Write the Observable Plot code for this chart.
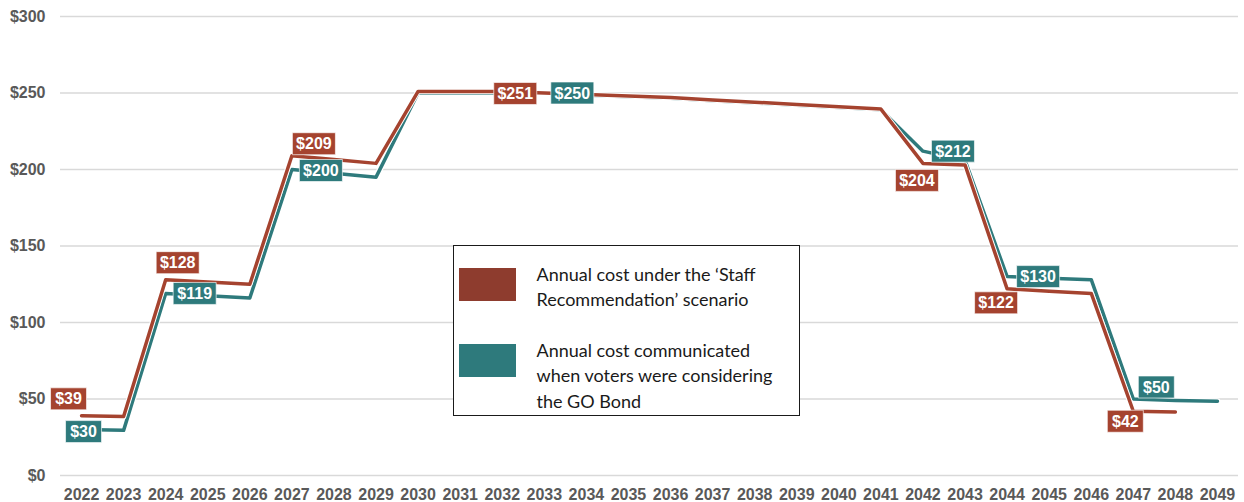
<!DOCTYPE html>
<html><head><meta charset="utf-8">
<script src="https://cdn.jsdelivr.net/npm/d3@7"></script>
<script src="https://cdn.jsdelivr.net/npm/@observablehq/plot@0.6"></script>
<style>
body{margin:0;background:#fff;}
#wrap{position:relative;width:1244px;height:502px;}
#legend{position:absolute;left:453px;top:245px;width:345px;height:169px;border:1.5px solid #1a1a1a;background:#fff;font-family:Lato,"Open Sans",sans-serif;font-size:18px;color:#1a1a1a;}
.sw{position:absolute;left:4.5px;width:57px;height:33px;}
.lt{position:absolute;left:82.5px;line-height:25.5px;white-space:nowrap;}
</style>
</head><body>
<div id="wrap"></div>
<script>
const years = [2022,2023,2024,2025,2026,2027,2028,2029,2030,2031,2032,2033,2034,2035,2036,2037,2038,2039,2040,2041,2042,2043,2044,2045,2046,2047,2048,2049];
// Annual cost under the 'Staff Recommendation' scenario (2022-2048)
const staffValues = [39,38.5,128,126.5,125,209,206.5,204,251,251,251,250,249,248,247,245.5,244,242.5,241,239.5,204,203,122,120.5,119,42,41.5];
// Annual cost communicated when voters were considering the GO Bond (2022-2049)
const bondValues = [30,29.5,119,117.5,116,200,197.5,195,250,250,250,250,248.5,247.5,246.5,245,243.5,242,240.5,239,212,206,130,129,128,50,49,48.5];
const yTicks = [0,50,100,150,200,250,300];
const colors = {staff:"#a5432f", bond:"#2e7a7c"};
// data labels
const labelSeries = ["staff","bond","staff","bond","staff","bond","staff","bond","bond","staff","bond","staff","bond","staff"];
const labelYears  = [2022,2022,2024,2024,2027,2027,2032,2033,2042,2042,2044,2044,2047,2047];
const labelText   = ["$39","$30","$128","$119","$209","$200","$251","$250","$212","$204","$130","$122","$50","$42"];
// label placement offsets (pixels), layout only
const labelOffsets = [[-13,-17],[2,2],[12,-17],[29,0],[22,-12],[29,1],[13,2],[28,0],[30,0],[-6,17],[31,0],[-11,14],[23,-12],[-8,10]];

const staff = staffValues.map((v,i)=>({year:years[i], value:v}));
const bond = bondValues.map((v,i)=>({year:years[i], value:v}));
const lookup = {staff, bond};

const boxSym = w => ({draw(ctx){ ctx.rect(-w/2, -11, w, 22); }});

const labelMarks = [];
labelText.forEach((t,i)=>{
  const s = labelSeries[i];
  const pt = lookup[s].find(d=>d.year===labelYears[i]);
  const row = {year: pt.year, value: pt.value, text: t};
  const [dx,dy] = labelOffsets[i];
  const w = t.length === 3 ? 36 : 43;
  labelMarks.push(Plot.dot([row], {x:"year", y:"value", symbol: boxSym(w), fill: colors[s], stroke:"#ffffff", strokeWidth:0.8, strokeOpacity:0.8, dx, dy}));
  labelMarks.push(Plot.text([row], {x:"year", y:"value", text:"text", fill:"#ffffff", fontSize:16, fontWeight:"bold", dx, dy: dy+0.5, textAnchor:"middle", lineAnchor:"middle"}));
});

const chart = Plot.plot({
  width:1244, height:502,
  marginLeft:60, marginRight:6, marginTop:16, marginBottom:27,
  x:{domain:[2021.5,2049.5], axis:null},
  y:{domain:[0,300], axis:null},
  style:{fontFamily:"'Liberation Sans', Arial, sans-serif", color:"#595959", background:"#fff", fontWeight:"bold"},
  marks:[
    Plot.ruleY(yTicks, {stroke:"#d9d9d9", strokeWidth:1.5}),
    Plot.axisY(yTicks, {tickSize:0, tickPadding:15, tickFormat:d=>"$"+d, fontSize:16, fontWeight:"bold", label:null}),
    Plot.axisX(years, {tickSize:0, tickPadding:13, tickFormat:d=>String(d), fontSize:16, fontWeight:"bold", label:null}),
    Plot.line(bond, {x:"year", y:"value", stroke:"#ffffff", strokeWidth:6}),
    Plot.line(bond, {x:"year", y:"value", stroke:colors.bond, strokeWidth:3.5}),
    Plot.line(staff, {x:"year", y:"value", stroke:"#ffffff", strokeWidth:5.5}),
    Plot.line(staff, {x:"year", y:"value", stroke:colors.staff, strokeWidth:3.5}),
    ...labelMarks
  ]
});
const wrap = document.getElementById("wrap");
wrap.appendChild(chart);

const legend = document.createElement("div");
legend.id = "legend";
legend.innerHTML =
  `<div class="sw" style="top:21.5px;background:#8e3c2e"></div>` +
  `<div class="lt" style="top:15.5px">Annual cost under the \u2018Staff<br>Recommendation\u2019 scenario</div>` +
  `<div class="sw" style="top:97.5px;background:${colors.bond}"></div>` +
  `<div class="lt" style="top:91.5px">Annual cost communicated<br>when voters were considering<br>the GO Bond</div>`;
wrap.appendChild(legend);
</script>
</body></html>
